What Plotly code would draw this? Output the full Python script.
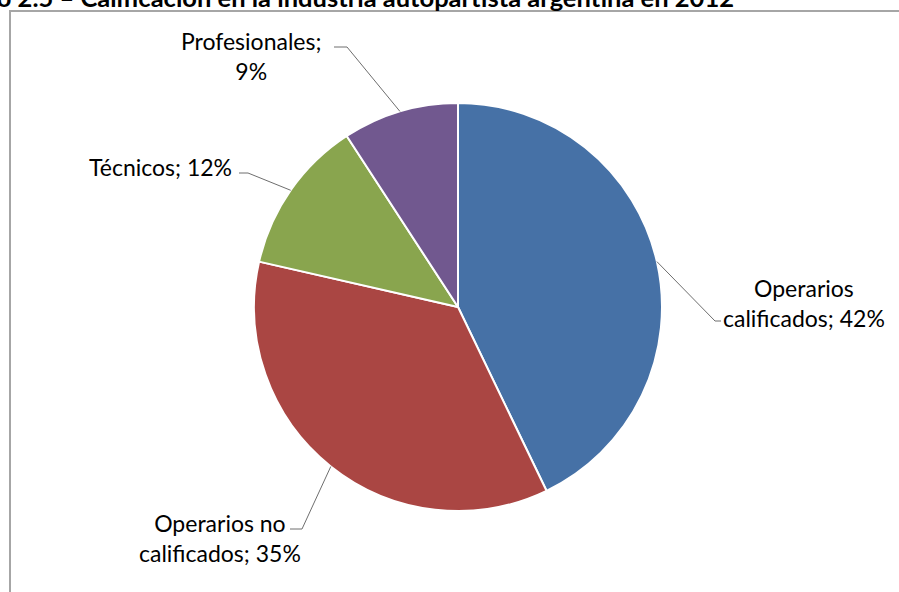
import plotly.graph_objects as go
import numpy as np

# Data
categories = ["Operarios calificados", "Operarios no calificados", "Técnicos", "Profesionales"]
values = [42, 35, 12, 9]
label_texts = [
    "Operarios<br>calificados; 42%",
    "Operarios no<br>calificados; 35%",
    "Técnicos; 12%",
    "Profesionales;<br>9%",
]
colors = ["#4671A6", "#AA4643", "#89A54E", "#71588F"]
title_text = "Gráfico 2.5 – Calificación en la industria autopartista argentina en 2012"

W, H = 899, 592
FONT = "Lato, Carlito, Calibri, sans-serif"

# Pie placement in pixels
cx, cy, R = 458, 307, 204


def px(x):
    return x / W


def py(y):
    return 1 - y / H


fig = go.Figure(
    go.Pie(
        labels=categories,
        values=values,
        sort=False,
        direction="clockwise",
        rotation=0,
        marker=dict(colors=colors, line=dict(color="white", width=2)),
        textinfo="none",
        hoverinfo="label+percent",
        showlegend=False,
        domain=dict(x=[px(cx - R), px(cx + R)], y=[py(cy + R), py(cy - R)]),
    )
)

# Slice mid-angles (clockwise from 12 o'clock) -> leader line anchors on the rim
vals = np.array(values, dtype=float)
cum = np.cumsum(vals) / vals.sum()
start = np.concatenate([[0], cum[:-1]])
mid = (start + cum) / 2 * 2 * np.pi
anchors = [(cx + R * np.sin(a), cy - R * np.cos(a)) for a in mid]

# Elbow and end points of each leader line, and label placement
leaders = [
    [(715, 321), (721, 321)],
    [(302, 529), (290, 529)],
    [(248, 173), (239, 173)],
    [(347, 47), (334, 47)],
]
label_pos = [
    dict(x=804, y=303, xanchor="center"),
    dict(x=220, y=538, xanchor="center"),
    dict(x=234, y=167, xanchor="right"),
    dict(x=251, y=56, xanchor="center"),
]

shapes = []
for (ax, ay), pts in zip(anchors, leaders):
    path = f"M{px(ax)},{py(ay)}" + "".join(f" L{px(x)},{py(y)}" for x, y in pts)
    shapes.append(
        dict(type="path", xref="paper", yref="paper", path=path,
             line=dict(color="#6E6E6E", width=1))
    )

# Chart frame
shapes.append(
    dict(type="rect", xref="paper", yref="paper",
         x0=px(10), x1=px(W + 20), y0=py(H + 20), y1=py(11),
         line=dict(color="#A6A6A6", width=2), fillcolor="rgba(0,0,0,0)",
         layer="below")
)

annotations = []
for txt, pos in zip(label_texts, label_pos):
    annotations.append(
        dict(text=txt, x=px(pos["x"]), y=py(pos["y"]), xref="paper", yref="paper",
             xanchor=pos["xanchor"], yanchor="middle", showarrow=False,
             align="center", font=dict(family=FONT, size=23, color="#000000"))
    )

annotations.append(
    dict(text=f"<b>{title_text}</b>", x=px(736), y=py(-3.5), xref="paper", yref="paper",
         xanchor="right", yanchor="middle", showarrow=False,
         font=dict(family=FONT, size=25.5, color="#000000"))
)

fig.update_layout(
    width=W,
    height=H,
    margin=dict(l=0, r=0, t=0, b=0),
    paper_bgcolor="white",
    plot_bgcolor="white",
    shapes=shapes,
    annotations=annotations,
)

fig.write_html("out.html")
